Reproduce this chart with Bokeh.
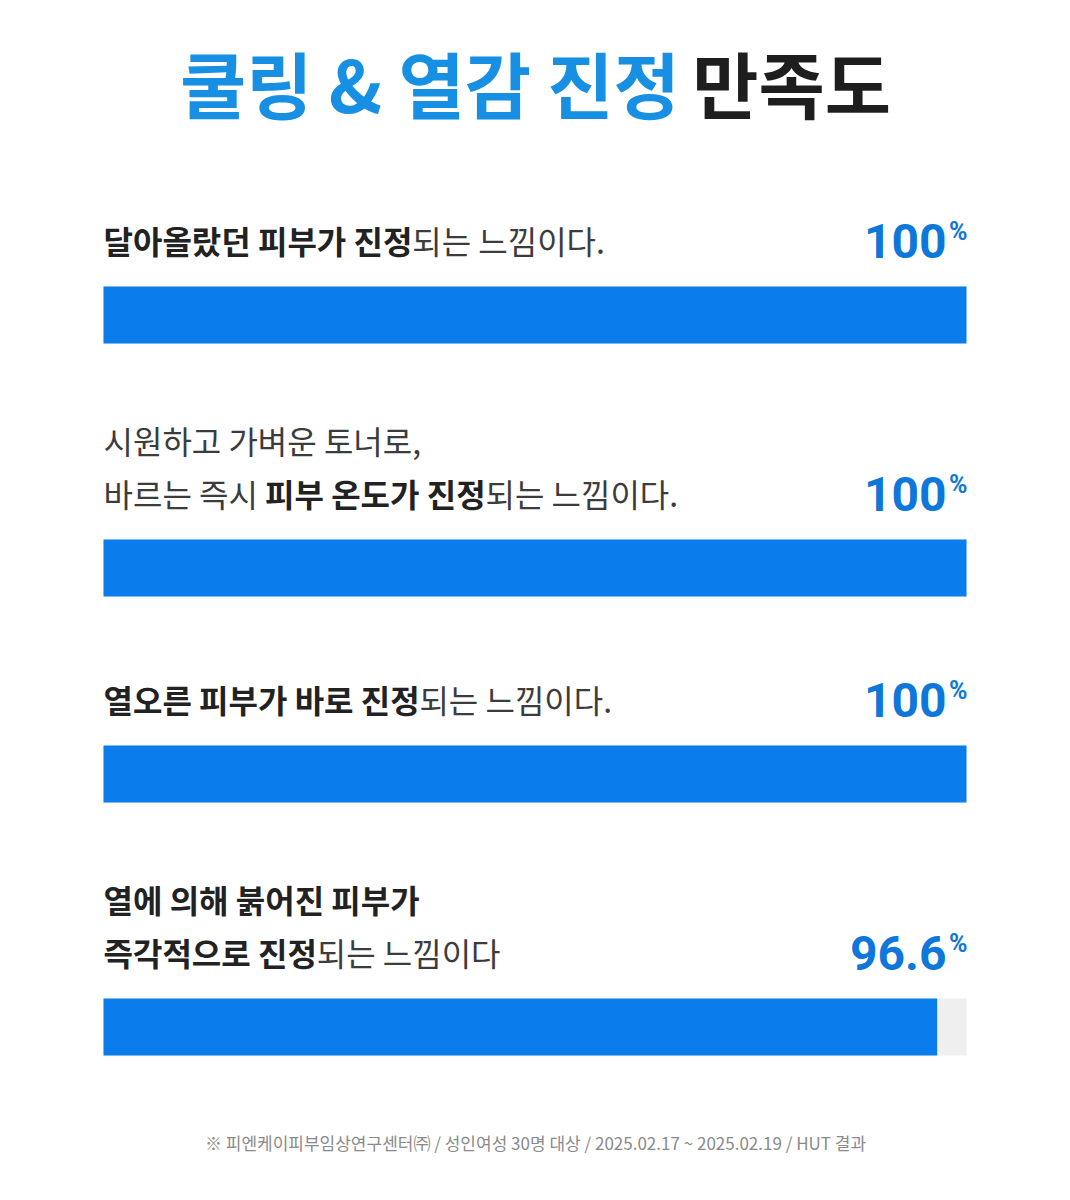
from bokeh.plotting import figure
from bokeh.models import Range1d
from bokeh.core.properties import value
from bokeh.embed import file_html
from bokeh.resources import INLINE

# ---- data ----
title_blue = "쿨링 & 열감 진정 "
title_dark = "만족도"
# each label: list of lines; each line: list of (text, bold)
labels = [
    [[("달아올랐던 피부가 진정", True), ("되는 느낌이다.", False)]],
    [[("시원하고 가벼운 토너로,", False)],
     [("바르는 즉시 ", False), ("피부 온도가 진정", True), ("되는 느낌이다.", False)]],
    [[("열오른 피부가 바로 진정", True), ("되는 느낌이다.", False)]],
    [[("열에 의해 붉어진 피부가", True)],
     [("즉각적으로 진정", True), ("되는 느낌이다", False)]],
]
values = [100, 100, 100, 96.6]
value_labels = ["100", "100", "100", "96.6"]
footer = "※ 피엔케이피부임상연구센터㈜ / 성인여성 30명 대상 / 2025.02.17 ~ 2025.02.19 / HUT 결과"

# ---- layout ----
W, H = 1070, 1200
BAR_L, BAR_R = 103, 966
SC = (BAR_R - BAR_L) / 100.0
bar_tops = [286, 539, 745, 998]
BAR_H = 57
KR = "Noto Sans CJK KR"
BLUE_BAR = "#0b7cec"
BLUE_TITLE = "#1790e3"
BLUE_VAL = "#0d78da"

def px(xp):
    return (xp - BAR_L) / SC

def est_w(s, size):
    w = 0.0
    for ch in s:
        if '\uac00' <= ch <= '\ud7a3' or ch in '※㈜':
            w += 0.92
        elif ch == ' ':
            w += 0.224
        elif ch in '.,':
            w += 0.26
        elif ch == '&':
            w += 0.7
        else:
            w += 0.55
    return w * size

p = figure(width=W, height=H, output_backend="svg", toolbar_location=None,
           x_range=Range1d(px(0), px(W)), y_range=Range1d(H, 0),
           min_border=0, outline_line_color=None)
p.axis.visible = False
p.grid.visible = False
p.background_fill_color = "white"
p.border_fill_color = "white"

# title
TS = 72
tw = est_w(title_blue, TS) + est_w(title_dark, TS)
tx = W / 2 - tw / 2
p.text(x=[px(tx)], y=[81], text=[title_blue], text_font=value(KR), text_font_size=f"{TS}px",
       text_font_style="bold", text_color=BLUE_TITLE, text_baseline="middle", text_align="left")
p.text(x=[px(tx + est_w(title_blue, TS))], y=[81], text=[title_dark], text_font=value(KR),
       text_font_size=f"{TS}px", text_font_style="bold", text_color="#1e1e1e",
       text_baseline="middle", text_align="left")

# bars
ys = [t + BAR_H / 2 for t in bar_tops]
p.hbar(y=ys, left=0, right=[100] * len(values), height=BAR_H, color="#efefef", line_color=None)
p.hbar(y=ys, left=0, right=values, height=BAR_H, color=BLUE_BAR, line_color=None)

# labels
LS = 32
LINE_GAP = 53
for lab, top in zip(labels, bar_tops):
    mid_last = top - 47
    n = len(lab)
    for li, line in enumerate(lab):
        my = mid_last - (n - 1 - li) * LINE_GAP
        cx = BAR_L
        for seg, bold in line:
            p.text(x=[px(cx)], y=[my], text=[seg], text_font=value(KR), text_font_size=f"{LS}px",
                   text_font_style="bold" if bold else "normal",
                   text_color="#222222" if bold else "#3c3c3c",
                   text_baseline="middle", text_align="left")
            cx += est_w(seg, LS)

# value labels
for vl, top in zip(value_labels, bar_tops):
    p.text(x=[px(BAR_R + 1)], y=[top - 55], text=["%"], text_font=value("Roboto"), text_font_size="25px",
           text_font_style="bold", text_color=BLUE_VAL, text_baseline="middle", text_align="right")
    p.text(x=[px(BAR_R - 20)], y=[top - 46], text=[vl], text_font=value("Roboto"), text_font_size="48px",
           text_font_style="bold", text_color=BLUE_VAL, text_baseline="middle", text_align="right")

# footer
p.text(x=[px(W / 2)], y=[1142], text=[footer], text_font=value(KR), text_font_size="17px",
       text_color="#8a8a8a", text_baseline="middle", text_align="center")

open("out.html", "w").write(file_html(p, INLINE))
